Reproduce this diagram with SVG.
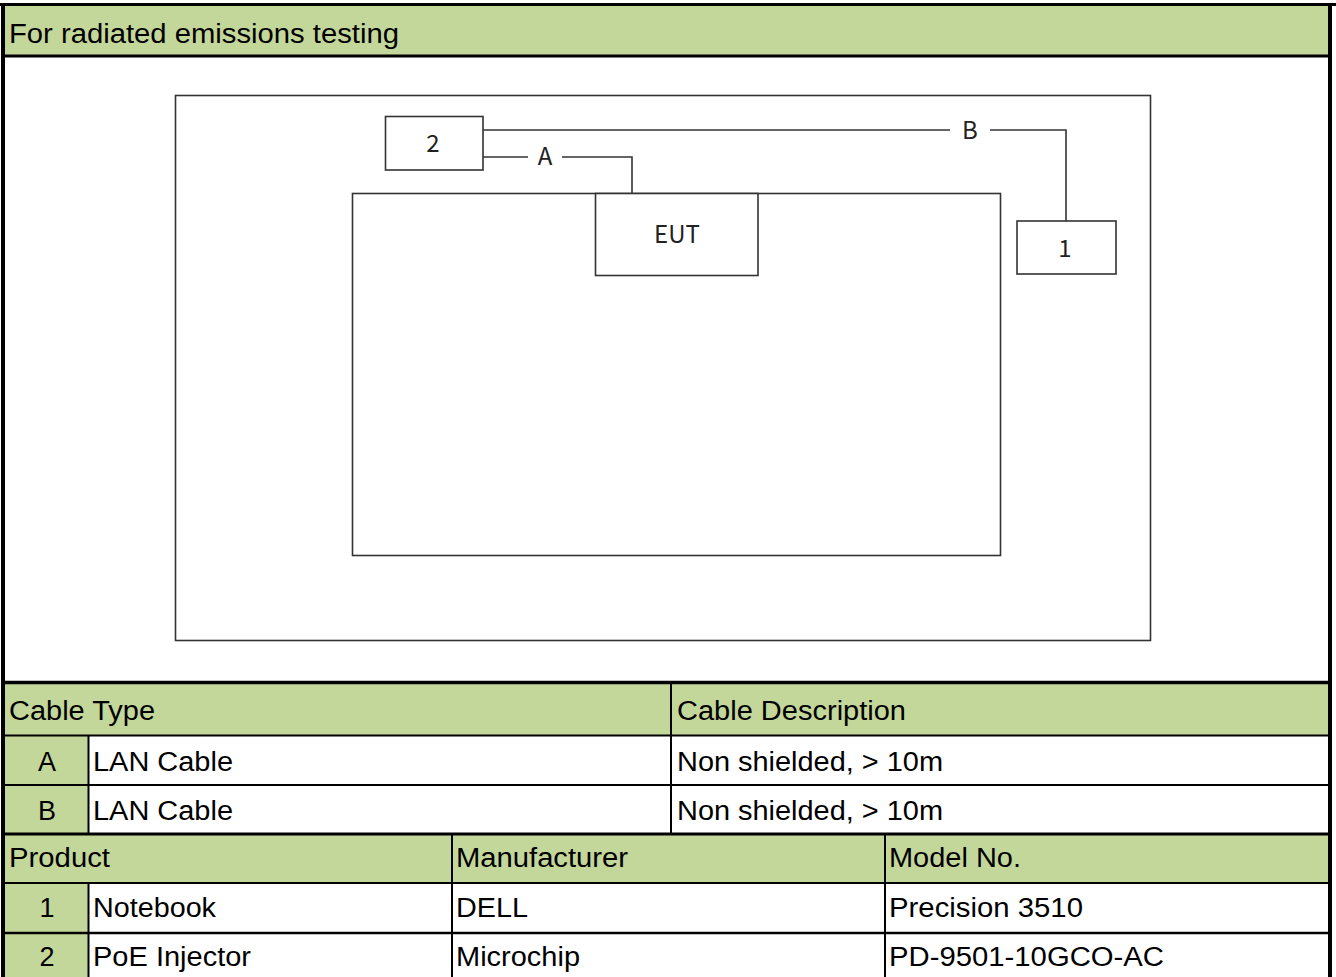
<svg xmlns="http://www.w3.org/2000/svg" width="1336" height="977" viewBox="0 0 1336 977">
<style>
.g{fill:#C4D79B}
.t{font-family:"Liberation Sans",Arial,sans-serif;font-size:27px;fill:#000}
.c{text-anchor:middle}
.d{font-family:"Noto Sans CJK TC","Noto Sans",sans-serif;font-size:24px;fill:#222;text-anchor:middle}
.box{fill:#fff;stroke:#333;stroke-width:1.6}
.ln{fill:none;stroke:#333;stroke-width:1.6}
.k{stroke:#000;fill:none}
</style>
<rect width="1336" height="977" fill="#fff"/>
<!-- green fills -->
<rect class="g" x="4" y="5" width="1325" height="50"/>
<rect class="g" x="4" y="684" width="1325" height="51"/>
<rect class="g" x="4" y="736" width="84" height="98"/>
<rect class="g" x="4" y="835" width="1325" height="47"/>
<rect class="g" x="4" y="883" width="84" height="94"/>
<!-- table grid -->
<g id="grid">
<line class="k" x1="0" y1="4.5" x2="1336" y2="4.5" stroke-width="3"/>
<line class="k" x1="3" y1="3" x2="3" y2="977" stroke-width="4"/>
<line class="k" x1="1330" y1="3" x2="1330" y2="977" stroke-width="4"/>
<line class="k" x1="1" y1="56" x2="1332" y2="56" stroke-width="3"/>
<line class="k" x1="1" y1="682.5" x2="1332" y2="682.5" stroke-width="3.5"/>
<line class="k" x1="1" y1="735.5" x2="1332" y2="735.5" stroke-width="2"/>
<line class="k" x1="1" y1="785" x2="1332" y2="785" stroke-width="2"/>
<line class="k" x1="1" y1="834" x2="1332" y2="834" stroke-width="3"/>
<line class="k" x1="1" y1="883" x2="1332" y2="883" stroke-width="2"/>
<line class="k" x1="1" y1="933" x2="1332" y2="933" stroke-width="2.5"/>
<line class="k" x1="88.5" y1="736" x2="88.5" y2="834" stroke-width="2"/>
<line class="k" x1="88.5" y1="883" x2="88.5" y2="977" stroke-width="2"/>
<line class="k" x1="671" y1="684" x2="671" y2="834" stroke-width="2"/>
<line class="k" x1="452" y1="835" x2="452" y2="977" stroke-width="2"/>
<line class="k" x1="885" y1="835" x2="885" y2="977" stroke-width="2"/>
</g>
<!-- table texts -->
<g id="texts">
<text class="t" x="9" y="43" textLength="390" lengthAdjust="spacingAndGlyphs">For radiated emissions testing</text>
<text class="t" x="9" y="720" textLength="146" lengthAdjust="spacingAndGlyphs">Cable Type</text>
<text class="t" x="677" y="720" textLength="229" lengthAdjust="spacingAndGlyphs">Cable Description</text>
<text class="t c" x="47" y="771">A</text>
<text class="t" x="93" y="771" textLength="140" lengthAdjust="spacingAndGlyphs">LAN Cable</text>
<text class="t" x="677" y="771" textLength="266" lengthAdjust="spacingAndGlyphs">Non shielded, &gt; 10m</text>
<text class="t c" x="47" y="820">B</text>
<text class="t" x="93" y="820" textLength="140" lengthAdjust="spacingAndGlyphs">LAN Cable</text>
<text class="t" x="677" y="820" textLength="266" lengthAdjust="spacingAndGlyphs">Non shielded, &gt; 10m</text>
<text class="t" x="9" y="867" textLength="101" lengthAdjust="spacingAndGlyphs">Product</text>
<text class="t" x="456" y="867" textLength="172" lengthAdjust="spacingAndGlyphs">Manufacturer</text>
<text class="t" x="889" y="867" textLength="132" lengthAdjust="spacingAndGlyphs">Model No.</text>
<text class="t c" x="47" y="917">1</text>
<text class="t" x="93" y="917" textLength="123" lengthAdjust="spacingAndGlyphs">Notebook</text>
<text class="t" x="456" y="917" textLength="72" lengthAdjust="spacingAndGlyphs">DELL</text>
<text class="t" x="889" y="917" textLength="194" lengthAdjust="spacingAndGlyphs">Precision 3510</text>
<text class="t c" x="47" y="966">2</text>
<text class="t" x="93" y="966" textLength="158" lengthAdjust="spacingAndGlyphs">PoE Injector</text>
<text class="t" x="456" y="966" textLength="124" lengthAdjust="spacingAndGlyphs">Microchip</text>
<text class="t" x="889" y="966" textLength="275" lengthAdjust="spacingAndGlyphs">PD-9501-10GCO-AC</text>
</g>
<!-- diagram -->
<g id="room"><rect class="box" x="175.5" y="95.5" width="975" height="545" stroke-width="2"/></g>
<g id="table"><rect class="box" x="352.5" y="193.5" width="648" height="362"/></g>
<g id="connectors">
<polyline class="ln" points="483,130 950,130"/>
<polyline class="ln" points="990,130 1066,130 1066,221"/>
<polyline class="ln" points="483,157 528,157"/>
<polyline class="ln" points="562,157 632,157 632,193"/>
<text class="d" x="545" y="165">A</text>
<text class="d" x="970" y="139">B</text>
</g>
<g id="eut"><rect class="box" x="595.5" y="193.5" width="162.5" height="82"/><text class="d" x="677" y="243">EUT</text></g>
<g id="n2"><rect class="box" x="385.5" y="116.5" width="97.5" height="53.5"/><text class="d" x="433" y="152">2</text></g>
<g id="n1"><rect class="box" x="1017" y="221" width="99" height="53"/><text class="d" x="1065" y="257">1</text></g>
</svg>
